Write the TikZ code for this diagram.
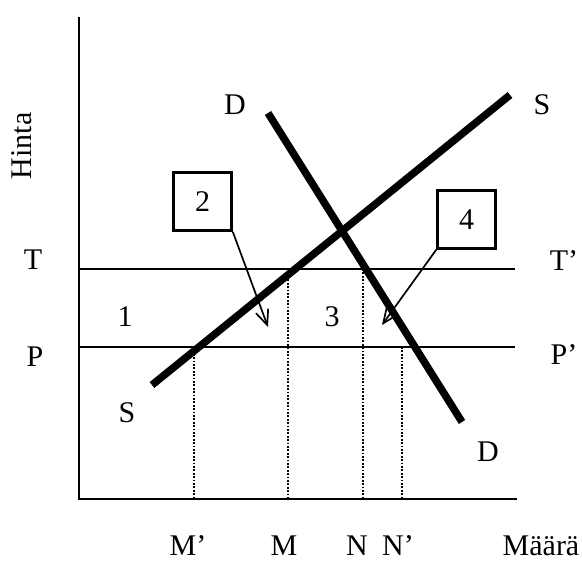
\documentclass[tikz,border=0pt]{standalone}
\usepackage{fontspec}
\setmainfont{Liberation Serif}
\usetikzlibrary{arrows.meta}

\begin{document}
\begin{tikzpicture}[x=1pt,y=-1pt,font=\fontsize{30}{36}\selectfont,
  lab/.style={inner sep=0pt},
  numbox/.style={draw,line width=2.6pt,minimum size=58pt,inner sep=0pt},
  curve/.style={line width=7.5pt},
  level/.style={line width=2.6pt},
  guide/.style={line width=1.9pt,dash pattern=on 1.8pt off 1.6pt},
  callout/.style={line width=1.7pt,-{Straight Barb[length=15pt,width=13pt]}}]
  \useasboundingbox (0,0) rectangle (582,561);
  % axes
  \coordinate (top) at (79,17);
  \coordinate (origin) at (79,499);
  \coordinate (right) at (517,499);
  \draw[line width=2.5pt] (top) -- (origin) -- (right);
  \node[lab,rotate=90] (hinta) at (22,146) {Hinta};
  % price levels T and P
  \coordinate (t0) at (79,269);
  \coordinate (t1) at (515,269);
  \coordinate (p0) at (79,347);
  \coordinate (p1) at (515,347);
  \draw[level] (t0) -- (t1);
  \draw[level] (p0) -- (p1);
  \node[lab] (tl) at (33,260) {T};
  \node[lab] (tr) at (564,261) {T’};
  \node[lab] (pl) at (35,357) {P};
  \node[lab] (pr) at (564,355) {P’};
  % quantities
  \foreach \nm/\x/\y in {mm/194/347,m/288/276,n/363/269,nn/402/347}{
    \coordinate (\nm top) at (\x,\y);
    \coordinate (\nm bot) at (\x,499);
    \draw[guide] (\nm top) -- (\nm bot);
  }
  \node[lab] (mmlab) at (188,546) {M’};
  \node[lab] (mlab) at (284,546) {M};
  \node[lab] (nlab) at (357,546) {N};
  \node[lab] (nnlab) at (398,546) {N’};
  \node[lab] (maara) at (541,546) {Määrä};
  % supply and demand
  \coordinate (s0) at (152,385);
  \coordinate (s1) at (510,95);
  \coordinate (d0) at (268,113);
  \coordinate (d1) at (462,422);
  \draw[curve] (s0) -- (s1);
  \draw[curve] (d0) -- (d1);
  \node[lab] (slow) at (127,413) {S};
  \node[lab] (shigh) at (542,105) {S};
  \node[lab] (dhigh) at (235,105) {D};
  \node[lab] (dlow) at (488,452) {D};
  % areas
  \node[lab] (a1) at (125,317) {1};
  \node[lab] (a3) at (332,317) {3};
  \node[numbox] (box2) at (202.5,201.5) {2};
  \node[numbox] (box4) at (466.5,219.5) {4};
  \coordinate (tip2) at (268,327);
  \coordinate (tip4) at (382,325);
  \draw[callout] (box2.south east) -- (tip2);
  \draw[callout] (box4.south west) -- (tip4);
\end{tikzpicture}
\end{document}
